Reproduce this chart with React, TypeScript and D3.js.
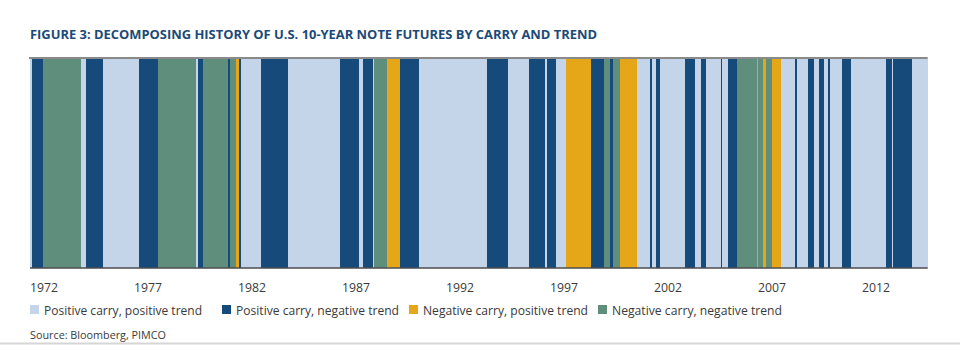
import React from "react";
import * as d3 from "d3";

// Regime codes: PP = positive carry, positive trend; PN = positive carry, negative trend;
// NP = negative carry, positive trend; NN = negative carry, negative trend
const periodStarts: number[] = [
  1971.33, 1971.41, 1971.94, 1973.8, 1974.01, 1974.84, 1976.58, 1977.48, 1979.31, 1979.4,
  1979.63, 1980.87, 1980.94, 1981.22, 1981.4, 1981.49, 1982.42, 1983.73, 1986.24, 1987.14,
  1987.34, 1987.82, 1987.89, 1988.47, 1989.12, 1990.03, 1993.28, 1994.29, 1995.33, 1996.1,
  1996.18, 1996.64, 1997.1, 1998.3, 1998.93, 1999.22, 1999.38, 1999.69, 2000.5, 2001.13,
  2001.22, 2001.45, 2001.62, 2002.83, 2003.31, 2003.59, 2003.83, 2004.53, 2004.6, 2004.87,
  2005.34, 2006.26, 2006.31, 2006.55, 2006.7, 2007.0, 2007.46, 2008.11, 2008.21, 2008.75,
  2009.03, 2009.24, 2009.52, 2009.71, 2009.78, 2010.36, 2010.8, 2012.47, 2012.75, 2012.81,
  2013.75,
];
const periodRegimes: string[] = [
  "PP", "PN", "NN", "PP", "PN", "PP", "PN", "NN", "PP", "PN",
  "NN", "PN", "NN", "NP", "PN", "PP", "PN", "PP", "PN", "PP",
  "PN", "PP", "NN", "NP", "PN", "PP", "PN", "PP", "PN", "PP",
  "PN", "PP", "NP", "PN", "NN", "PN", "NN", "NP", "PP", "PN",
  "PP", "PN", "PP", "PN", "PP", "PN", "PP", "PN", "PP", "PN",
  "NN", "NP", "NN", "NP", "NN", "NP", "PP", "PN", "PP", "PN",
  "PP", "PN", "PP", "PN", "PP", "PN", "PP", "PN", "PP", "PN",
  "PP",
];
const endYear = 2014.49;

const tickYears: number[] = [1972, 1977, 1982, 1987, 1992, 1997, 2002, 2007, 2012];

const legendKeys: string[] = ["PP", "PN", "NP", "NN"];
const legendLabels: string[] = [
  "Positive carry, positive trend",
  "Positive carry, negative trend",
  "Negative carry, positive trend",
  "Negative carry, negative trend",
];

const colors: Record<string, string> = {
  PP: "#c4d4e9",
  PN: "#164a7b",
  NP: "#e5a618",
  NN: "#5f8e7c",
};

const FONT = "'Open Sans', 'Noto Sans', sans-serif";

export default function App() {
  const left = 30;
  const right = 927.7;
  const top = 59;
  const bottom = 267.5;

  const x = d3.scaleLinear().domain([periodStarts[0], endYear]).range([left, right]);

  const bands = periodStarts.map((s, i) => {
    const e = i + 1 < periodStarts.length ? periodStarts[i + 1] : endYear;
    return { s, e, r: periodRegimes[i] };
  });

  const legendX = [30, 222, 409, 598];
  const legendTextW = [158, 163, 165, 170];

  return (
    <svg
      width={969}
      height={345}
      style={{ position: "absolute", left: 0, top: 0, background: "#fff" }}
    >
      <text
        x={30}
        y={38.5}
        fontFamily={FONT}
        fontWeight={700}
        fontSize={12.5}
        fill="#1b4a78"
        textLength={567}
        lengthAdjust="spacingAndGlyphs"
      >
        FIGURE 3: DECOMPOSING HISTORY OF U.S. 10-YEAR NOTE FUTURES BY CARRY AND TREND
      </text>

      <g shapeRendering="crispEdges">
        {bands.map((b, i) => (
          <rect
            key={i}
            x={x(b.s)}
            y={top}
            width={Math.max(0.8, x(b.e) - x(b.s) + 0.3)}
            height={bottom - top}
            fill={colors[b.r]}
          />
        ))}
      </g>

      <line x1={left - 1} x2={right} y1={58} y2={58} stroke="#8a8a8a" strokeWidth={2} />
      <line x1={left} x2={right} y1={268} y2={268} stroke="#4d4d4d" strokeWidth={1.5} />

      {tickYears.map((t) => (
        <text
          key={t}
          x={x(t)}
          y={291.5}
          textAnchor="middle"
          fontFamily={FONT}
          fontSize={12.5}
          fill="#3a3a3a"
          textLength={28}
          lengthAdjust="spacingAndGlyphs"
        >
          {t}
        </text>
      ))}

      {legendKeys.map((k, i) => (
        <g key={k}>
          <rect x={legendX[i]} y={305} width={9} height={9} fill={colors[k]} />
          <text
            x={legendX[i] + 14}
            y={314.5}
            fontFamily={FONT}
            fontSize={12.5}
            fill="#3a3a3a"
            textLength={legendTextW[i]}
            lengthAdjust="spacingAndGlyphs"
          >
            {legendLabels[i]}
          </text>
        </g>
      ))}

      <text
        x={30}
        y={338.5}
        fontFamily={FONT}
        fontSize={11}
        fill="#3a3a3a"
        textLength={136}
        lengthAdjust="spacingAndGlyphs"
      >
        Source: Bloomberg, PIMCO
      </text>

      <line x1={0} x2={960} y1={343.5} y2={343.5} stroke="#d6d6d6" strokeWidth={2} />
    </svg>
  );
}
